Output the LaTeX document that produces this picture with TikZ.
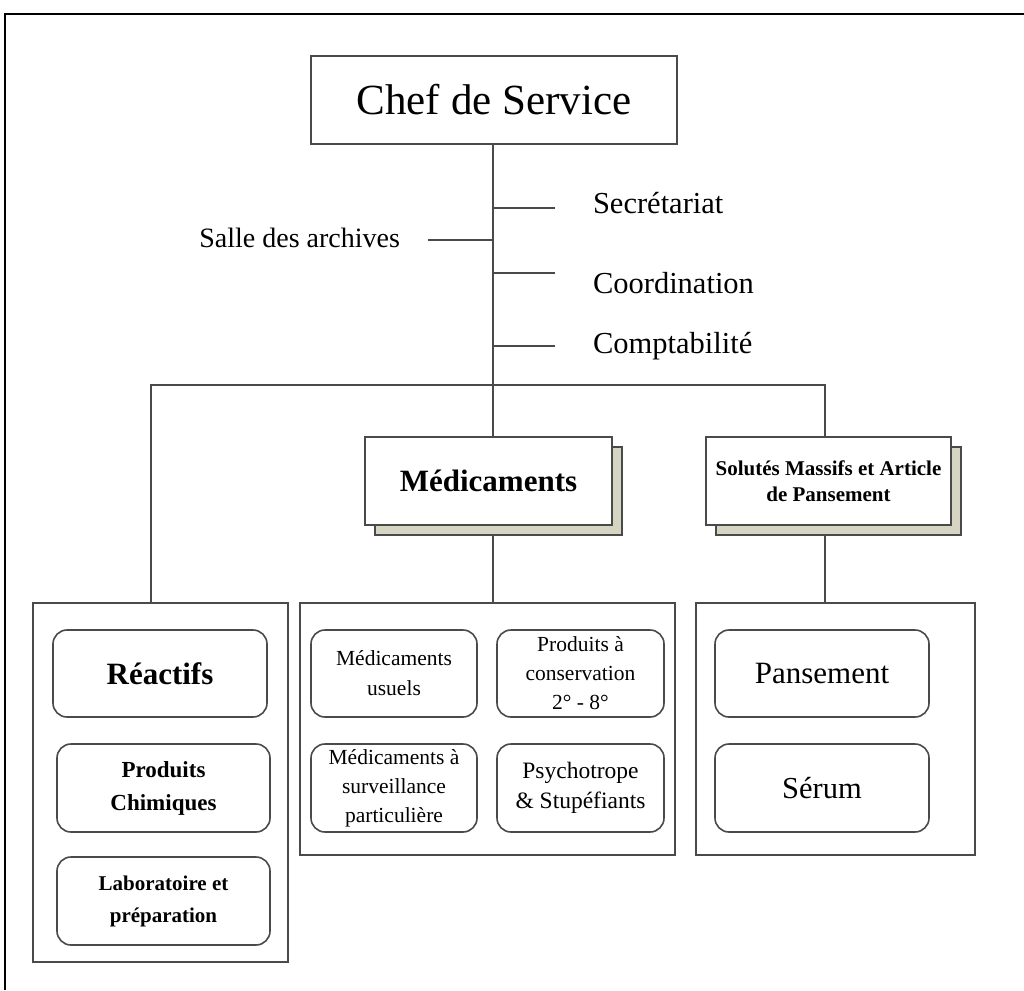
\documentclass[tikz,border=0pt]{standalone}
\usepackage{fontspec}
\setmainfont{Liberation Serif}
\usetikzlibrary{shadows}
\definecolor{linec}{HTML}{4A4A4A}
\definecolor{shadowc}{HTML}{D6D4C2}
% font size in pt; \fsb also sets the baseline skip
\newcommand{\fs}[1]{\fontsize{#1}{#1}\selectfont}
\newcommand{\fsb}[2]{\fontsize{#1}{#2}\selectfont}
\tikzset{
  every node/.style={inner sep=0pt, outer sep=0pt},
  conn/.style={draw=linec, line width=1.6pt},
  box/.style={draw=linec, line width=1.6pt, fill=white, rectangle, align=center},
  shadowed/.style={box, copy shadow={shadow xshift=10pt, shadow yshift=-10pt, fill=shadowc, draw=linec, line width=1.6pt}},
  group/.style={draw=linec, line width=1.6pt, fill=white, rectangle},
  item/.style={draw=linec, line width=1.6pt, fill=white, rounded corners=14pt, rectangle, align=center},
  lbl/.style={anchor=west, font=\fs{30.5}},
}
\begin{document}
\begin{tikzpicture}[x=1pt, y=-1pt]
\useasboundingbox (0,0) rectangle (1024,990);
% page frame
\draw[line width=2pt] (1024,14) -- (5,14) -- (5,990);

% head
\node[box, minimum width=366, minimum height=88, font=\fs{43}] (chef) at (494,100) {Chef de Service};

% staff offices along the trunk
\node[lbl] (sec) at (593,203) {Secrétariat};
\node[lbl, anchor=east, font=\fs{28}] (arch) at (400,238) {Salle des archives};
\node[lbl] (coord) at (593,283) {Coordination};
\node[lbl] (compt) at (593,346) {Comptabilité};
\coordinate (tsec) at (493,208);
\coordinate (tarch) at (493,240);
\coordinate (tcoord) at (493,273);
\coordinate (tcompt) at (493,346);
\coordinate (esec) at (555,208);
\coordinate (earch) at (428,240);
\coordinate (ecoord) at (555,273);
\coordinate (ecompt) at (555,346);

% departments
\node[shadowed, minimum width=247, minimum height=88, font=\bfseries\fs{31}] (med) at (488.5,481) {Médicaments};
\node[shadowed, minimum width=245, minimum height=88, font=\bfseries\fsb{21}{26}] (sol) at (828.5,481) {Solutés Massifs et Article\\de Pansement};

% groups of stores
\node[group, minimum width=255, minimum height=359] (gleft) at (160.5,782.5) {};
\node[group, minimum width=375, minimum height=252] (gmid) at (487.5,729) {};
\node[group, minimum width=279, minimum height=252] (gright) at (835.5,729) {};

% left group
\node[item, minimum width=214, minimum height=87, font=\bfseries\fs{31}] (reac) at (160,673.5) {Réactifs};
\node[item, minimum width=213, minimum height=88, font=\bfseries\fsb{23}{33}] (chim) at (163.5,788) {Produits\\Chimiques};
\node[item, minimum width=213, minimum height=88, font=\bfseries\fsb{21}{32}] (labo) at (163.5,901) {Laboratoire et\\préparation};

% middle group
\node[item, minimum width=166, minimum height=87, font=\fsb{21.5}{30}] (usu) at (394,673.5) {Médicaments\\usuels};
\node[item, minimum width=167, minimum height=87, font=\fsb{21.5}{29}] (cons) at (580.5,673.5) {Produits à\\conservation\\2° - 8°};
\node[item, minimum width=166, minimum height=88, font=\fsb{21.5}{29}] (surv) at (394,788) {Médicaments à\\surveillance\\particulière};
\node[item, minimum width=167, minimum height=88, font=\fsb{23.5}{30}] (psy) at (580.5,788) {Psychotrope\\\& Stupéfiants};

% right group
\node[item, minimum width=214, minimum height=87, font=\fs{31}] (pans) at (822,673.5) {Pansement};
\node[item, minimum width=214, minimum height=88, font=\fs{30.5}] (ser) at (822,788) {Sérum};

% connectors
\draw[conn] (chef.south -| tsec) -- (med.north -| tsec);
\draw[conn] (tsec) -- (esec);
\draw[conn] (tarch) -- (earch);
\draw[conn] (tcoord) -- (ecoord);
\draw[conn] (tcompt) -- (ecompt);
\draw[conn] (gleft.north -| 151,0) -- (151,385) -- (825,385) -- (sol.north -| 825,0);
\draw[conn] (493,535) -- (gmid.north -| 493,0);
\draw[conn] (825,535) -- (gright.north -| 825,0);
\end{tikzpicture}
\end{document}
